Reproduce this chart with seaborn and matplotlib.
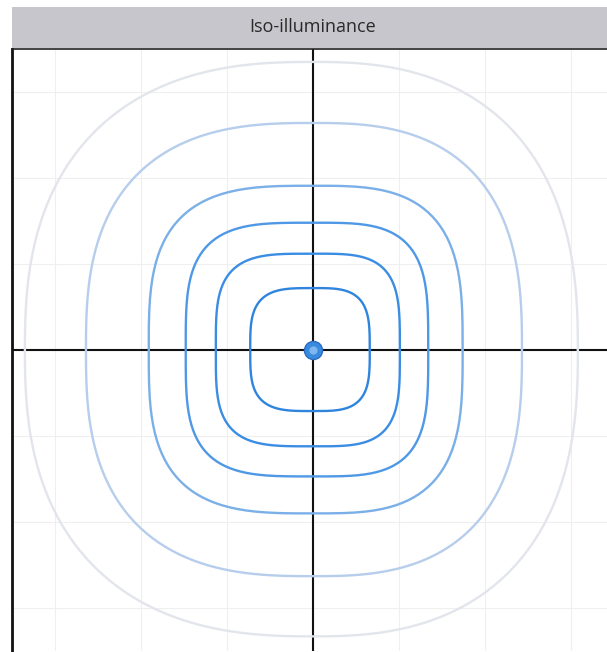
import numpy as np
import pandas as pd
import matplotlib
matplotlib.use("Agg")
import matplotlib.pyplot as plt
import seaborn as sns

# iso-illuminance contours, inner (brightest) to outer, extents in grid units (1 unit = 1 grid cell)
contour_ids = ["c1", "c2", "c3", "c4", "c5", "c6"]
half_left = [0.73, 1.13, 1.48, 1.91, 2.64, 3.35]
half_right = [0.66, 1.01, 1.34, 1.74, 2.43, 3.08]
half_top = [0.72, 1.12, 1.48, 1.91, 2.64, 3.35]
half_bottom = [0.71, 1.12, 1.47, 1.90, 2.63, 3.33]
squareness = [3.5, 3.7, 3.6, 3.2, 2.7, 2.5]
line_colors = ["#2f85de", "#3b8de3", "#4f98e6", "#7aafe8", "#b6cdec", "#e2e5eb"]

grid_ticks = [-3, -2, -1, 0, 1, 2, 3]


def contour_frame():
    rows = []
    t = np.linspace(0, np.pi / 2, 60)
    for cid, l, r, tp, b, n in zip(contour_ids, half_left, half_right, half_top, half_bottom, squareness):
        c = np.cos(t) ** (2 / n)
        s = np.sin(t) ** (2 / n)
        # go round the four quadrants: top-right, top-left, bottom-left, bottom-right
        xs = np.concatenate([r * c, -l * c[::-1], -l * c, r * c[::-1]])
        ys = np.concatenate([tp * s, tp * s[::-1], -b * s, -b * s[::-1]])
        for i, (x, y) in enumerate(zip(xs, ys)):
            rows.append({"contour": cid, "order": i, "x": x, "y": y})
    return pd.DataFrame(rows)


df = contour_frame()

sns.set_style("white")
plt.rcParams["font.family"] = ["Open Sans", "DejaVu Sans"]

W, H = 607, 652
fig = plt.figure(figsize=(W / 100, H / 100), dpi=100)

# main plot area: 602 px square starting at x=12, top at y=49
ax = fig.add_axes([12 / W, (H - 49 - 602) / H, 602 / W, 602 / H])
ax.set_xlim(-3.5, 3.5)
ax.set_ylim(-3.5, 3.5)
ax.set_xticks(grid_ticks)
ax.set_yticks(grid_ticks)
ax.grid(True, color="#efefef", lw=0.8)
ax.tick_params(length=0, labelbottom=False, labelleft=False)
for side in ["right", "bottom"]:
    ax.spines[side].set_visible(False)
ax.spines["left"].set_color("#111111")
ax.spines["left"].set_linewidth(2)
ax.spines["top"].set_color("#222222")
ax.spines["top"].set_linewidth(1.2)

ax.axhline(0, color="#111111", lw=1.5, zorder=1)
ax.axvline(0, color="#111111", lw=1.5, zorder=1)

sns.lineplot(data=df, x="x", y="y", hue="contour", units="contour", estimator=None,
             sort=False, palette=line_colors, hue_order=contour_ids, lw=1.7,
             legend=False, ax=ax, zorder=2)
ax.set_xlabel("")
ax.set_ylabel("")

# luminaire symbol at the centre
ax.scatter([0], [0], s=170, color="#3a8be0", edgecolor="#2a6cc0", lw=1, zorder=4)
ax.scatter([0], [0], s=35, color="#7fb6ee", lw=0, zorder=5)

# title bar
tax = fig.add_axes([12 / W, (H - 48) / H, (W - 12) / W, 41 / H])
tax.set_facecolor("#c6c6cc")
tax.set_xticks([])
tax.set_yticks([])
for sp in tax.spines.values():
    sp.set_visible(False)
tax.text(0.505, 0.5, "Iso-illuminance", ha="center", va="center", fontsize=13,
         color="#2a2a2a", transform=tax.transAxes)

fig.savefig("out.png", dpi=100)
